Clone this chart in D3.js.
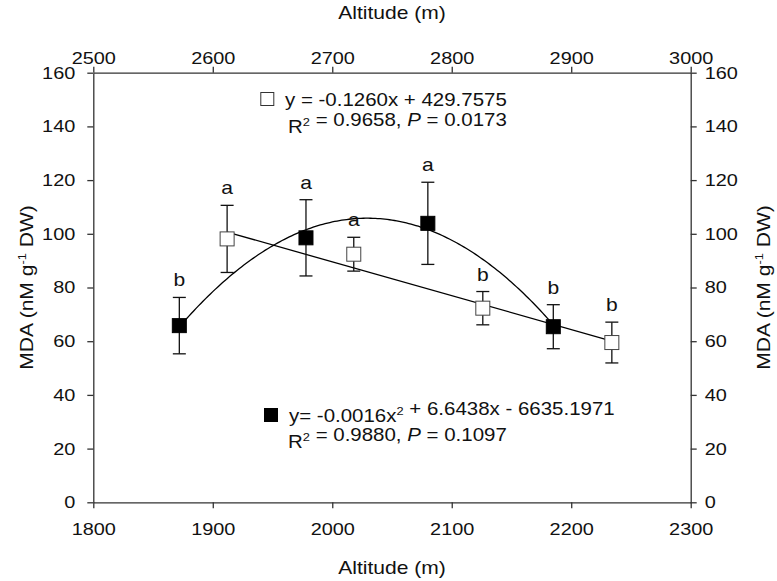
<!DOCTYPE html>
<meta charset="utf-8">
<title>MDA vs altitude</title>
<style>
	body { margin: 0; background: #fff; }
	text { font-family: "Liberation Sans", Arial, sans-serif; fill: #111; }
	.domain, .tick line { stroke: #333; stroke-width: 1.3px; }
	.fit { fill: none; stroke: #000; stroke-width: 1.3px; }
	.err { stroke: #111; stroke-width: 1.3px; }
</style>
<body>
<script src="https://cdnjs.cloudflare.com/ajax/libs/d3/7.8.5/d3.min.js"></script>
<script>

var width = 777,
	height = 581;

// open squares: plotted against the top altitude axis
var openAlt = [2612, 2718, 2826, 2934];
var openMDA = [98.1, 92.4, 72.3, 59.5];
var openErr = [12.5, 6.3, 6.2, 7.6];
var openLetters = ["a", "a", "b", "b"];
var openFit = [-0.1260, 429.7575];   // slope, intercept

// filled squares: plotted against the bottom altitude axis
var fillAlt = [1872, 1978, 2080, 2185];
var fillMDA = [65.8, 98.5, 103.9, 65.4];
var fillErr = [10.5, 14.2, 15.3, 8.2];
var fillLetters = ["b", "a", "a", "b"];
var fillFit = [-0.001637, 6.6438, -6635.1971];  // a, b, c

var bottomTicks = [1800, 1900, 2000, 2100, 2200, 2300];
var topTicks = [2500, 2600, 2700, 2800, 2900, 3000];
var yTicks = [0, 20, 40, 60, 80, 100, 120, 140, 160];

var sx = 1.17; // the original font is wider than Arial

var pLeft = 93.3, pRight = 690.7, pTop = 72.7, pBottom = 502.3;

var xB = d3.scaleLinear().domain([1800, 2300]).range([pLeft, pRight]);
var xT = d3.scaleLinear().domain([2500, 3000]).range([pLeft, pRight]);
var y = d3.scaleLinear().domain([0, 160]).range([pBottom, pTop]);

var svg = d3.select("body").append("svg")
	.attr("width", width)
	.attr("height", height);

function stretch(sel) {
	sel.each(function() {
		var t = d3.select(this);
		var tx = +t.attr("x") || 0;
		t.attr("x", 0).attr("transform", "translate(" + tx + ",0) scale(" + sx + ",1)");
	});
}

// axes
var gB = svg.append("g").attr("transform", "translate(0," + pBottom + ")")
	.call(d3.axisBottom(xB).tickValues(bottomTicks).tickFormat(d3.format("d")).tickSize(6).tickSizeOuter(0).tickPadding(15));
var gT = svg.append("g").attr("transform", "translate(0," + pTop + ")")
	.call(d3.axisTop(xT).tickValues(topTicks).tickFormat(d3.format("d")).tickSize(6).tickSizeOuter(0).tickPadding(3));
var gL = svg.append("g").attr("transform", "translate(" + pLeft + ",0)")
	.call(d3.axisLeft(y).tickValues(yTicks).tickSize(6).tickSizeOuter(0).tickPadding(12));
var gR = svg.append("g").attr("transform", "translate(" + pRight + ",0)")
	.call(d3.axisRight(y).tickValues(yTicks).tickSize(6).tickSizeOuter(0).tickPadding(8));

[gB, gT, gL, gR].forEach(function(g) {
	g.attr("font-family", null).attr("font-size", null);
	g.selectAll(".tick text").style("font-size", "17px").attr("fill", "#111");
	stretch(g.selectAll(".tick text"));
});

// axis titles
function title(x, yy, rot, parts) {
	var t = svg.append("text")
		.attr("text-anchor", "middle")
		.style("font-size", "18px")
		.attr("transform", "translate(" + x + "," + yy + ") rotate(" + rot + ") scale(" + sx + ",1)");
	parts(t);
}
function altTitle(t) { t.text("Altitude (m)"); }
function mdaTitle(t) {
	t.append("tspan").text("MDA (nM g");
	t.append("tspan").attr("dy", -7).style("font-size", "11px").text("-1");
	t.append("tspan").attr("dy", 7).text(" DW)");
}
title((pLeft + pRight) / 2, 574, 0, altTitle);
title((pLeft + pRight) / 2, 19, 0, altTitle);
title(33, (pTop + pBottom) / 2, -90, mdaTitle);
title(770, (pTop + pBottom) / 2, -90, mdaTitle);

// regression line (open) and quadratic curve (filled)
var openLine = d3.line()
	.x(function(d) { return xT(d); })
	.y(function(d) { return y(openFit[0] * d + openFit[1]); });
svg.append("path").attr("class", "fit")
	.attr("d", openLine([openAlt[0], openAlt[openAlt.length - 1]]));

var curveX = d3.range(fillAlt[0], fillAlt[fillAlt.length - 1] + 0.1, 2);
var fillLine = d3.line()
	.x(function(d) { return xB(d); })
	.y(function(d) { return y(fillFit[0] * d * d + fillFit[1] * d + fillFit[2]); });
svg.append("path").attr("class", "fit").attr("d", fillLine(curveX));

// points with error bars and letters
function series(alts, vals, errs, letters, xs, fill) {
	var g = svg.append("g");
	var pts = alts.map(function(a, i) { return {x: xs(a), v: vals[i], e: errs[i], l: letters[i]}; });
	var bar = g.selectAll(".bar").data(pts).enter().append("g").attr("class", "bar");
	bar.append("line").attr("class", "err")
		.attr("x1", function(d) { return d.x; }).attr("x2", function(d) { return d.x; })
		.attr("y1", function(d) { return y(d.v - d.e); }).attr("y2", function(d) { return y(d.v + d.e); });
	[1, -1].forEach(function(s) {
		bar.append("line").attr("class", "err")
			.attr("x1", function(d) { return d.x - 6.5; }).attr("x2", function(d) { return d.x + 6.5; })
			.attr("y1", function(d) { return y(d.v + s * d.e); }).attr("y2", function(d) { return y(d.v + s * d.e); });
	});
	g.selectAll("rect").data(pts).enter().append("rect")
		.attr("x", function(d) { return d.x - 7; })
		.attr("y", function(d) { return y(d.v) - 7; })
		.attr("width", 14).attr("height", 14)
		.attr("fill", fill)
		.attr("stroke", fill == "#fff" ? "#444" : "#000")
		.attr("stroke-width", 1);
	g.selectAll(".lab").data(pts).enter().append("text")
		.attr("class", "lab")
		.attr("text-anchor", "middle")
		.style("font-size", "18px")
		.attr("transform", function(d) { return "translate(" + d.x + "," + (y(d.v + d.e) - 11) + ") scale(" + sx + ",1)"; })
		.text(function(d) { return d.l; });
}
series(openAlt, openMDA, openErr, openLetters, xT, "#fff");
series(fillAlt, fillMDA, fillErr, fillLetters, xB, "#000");

// legends
function legendLine(x, yy, build) {
	var t = svg.append("text")
		.style("font-size", "17.5px")
		.attr("transform", "translate(" + x + "," + yy + ") scale(" + sx + ",1)");
	build(t);
}
function sup(t, s) {
	t.append("tspan").attr("dy", -7).style("font-size", "11px").text(s);
	t.append("tspan").attr("dy", 7).text("");
}

svg.append("rect").attr("x", 267.3 - 6.5).attr("y", 99 - 6.5).attr("width", 13).attr("height", 13)
	.attr("fill", "#fff").attr("stroke", "#333");
legendLine(285, 106, function(t) { t.text("y = -0.1260x + 429.7575"); });
legendLine(288, 133, function(t) {
	t.append("tspan").text("R");
	sup(t, "2");
	t.append("tspan").text(" = 0.9658, ");
	t.append("tspan").style("font-style", "italic").text("P");
	t.append("tspan").text(" = 0.0173");
});

svg.append("rect").attr("x", 271 - 7).attr("y", 415 - 7).attr("width", 14).attr("height", 14)
	.attr("fill", "#000");
legendLine(289, 422, function(t) {
	t.append("tspan").text("y= -0.0016x");
	sup(t, "2");
	t.append("tspan").text(" + 6.6438x - 6635.1971");
});
legendLine(288, 448, function(t) {
	t.append("tspan").text("R");
	sup(t, "2");
	t.append("tspan").text(" = 0.9880, ");
	t.append("tspan").style("font-style", "italic").text("P");
	t.append("tspan").text(" = 0.1097");
});

</script>
</body>
